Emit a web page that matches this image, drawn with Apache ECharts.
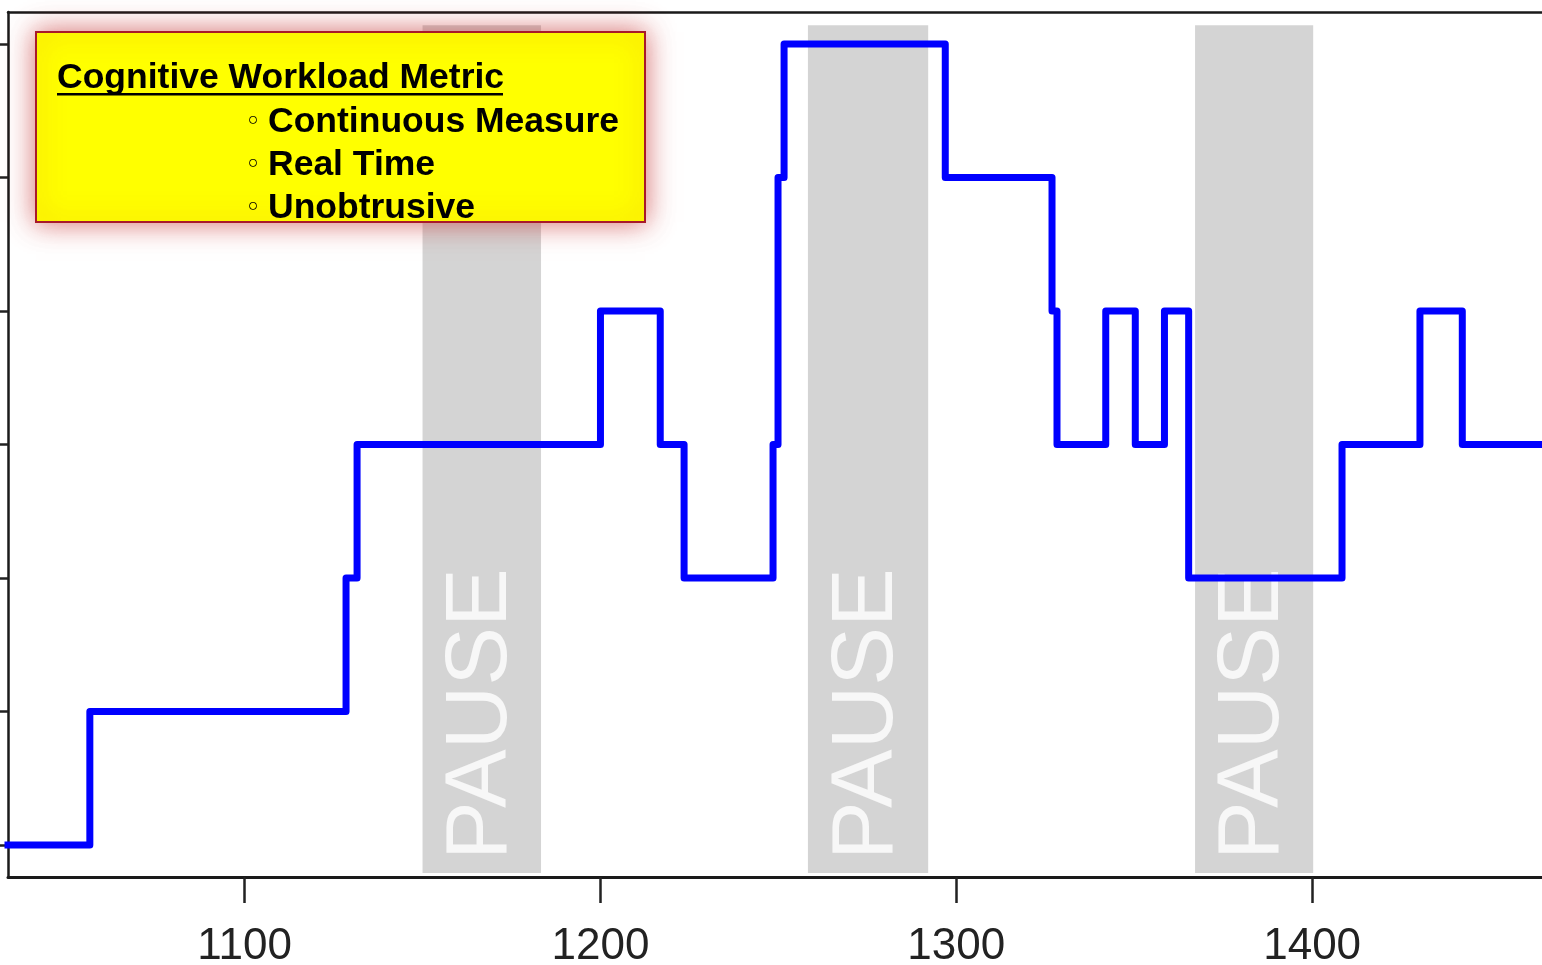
<!DOCTYPE html>
<html>
<head>
<meta charset="utf-8">
<script src="https://cdn.jsdelivr.net/npm/echarts@6/dist/echarts.min.js"></script>
<style>
html,body{margin:0;padding:0;background:#fff;}
#chart{width:1542px;height:965px;}
</style>
</head>
<body>
<div id="chart"></div>
<script>
// ---- data ----
const xTicks = [1100, 1200, 1300, 1400];
const yTicks = [1, 2, 3, 4, 5, 6, 7];
const xRange = [1033.5, 1464.6];
const yRange = [0.76, 7.24];
// times at which the workload level changes, and the new level
const stepTimes  = [1033.5, 1056.5, 1128.5, 1131.6, 1200, 1216.8, 1223.5, 1248.5, 1249.9, 1251.6, 1296.9, 1326.9, 1328.3, 1342, 1350.3, 1358.5, 1365.3, 1408.4, 1430.3, 1442.2, 1464.6];
const stepLevels = [1, 2, 3, 4, 5, 4, 3, 4, 6, 7, 6, 5, 4, 5, 4, 5, 3, 4, 5, 4, 4];
// pause periods
const pauseStart = [1150, 1258.3, 1367.1];
const pauseEnd   = [1183.3, 1292.1, 1400.3];
const pauseBand  = [0.79, 7.14];
const pauseLabel = 'PAUSE';
const pauseLabelLevel = 1.98;
const boxTitle = 'Cognitive Workload Metric';
const boxItems = ['Continuous Measure', 'Real Time', 'Unobtrusive'];

const FONT = '"Liberation Sans", Arial, sans-serif';
const chart = echarts.init(document.getElementById('chart'), null, {renderer: 'canvas'});

const lineData = stepTimes.map((t, i) => [t, stepLevels[i]]);
const labelData = pauseStart.map((s, i) => [(s + pauseEnd[i]) / 2, pauseLabelLevel]);

const graphic = [
  {
    type: 'rect', z: 100,
    shape: {x: 36, y: 32, width: 609, height: 190},
    style: {fill: '#ffff00', stroke: '#a8192a', lineWidth: 2,
            shadowBlur: 26, shadowColor: 'rgba(200,50,50,0.7)'}
  },
  {
    type: 'text', z: 101, x: 57, y: 78,
    style: {text: boxTitle, font: 'bold 35.5px ' + FONT, fill: '#000', verticalAlign: 'middle'}
  },
  {
    type: 'rect', z: 101,
    shape: {x: 57, y: 93, width: 446, height: 2.5},
    style: {fill: '#000'}
  }
];
boxItems.forEach((t, i) => {
  graphic.push({
    type: 'text', z: 101, x: 246, y: 122 + i * 43,
    style: {text: '◦', font: 'bold 22px "DejaVu Sans", sans-serif', fill: '#000', verticalAlign: 'middle'}
  });
  graphic.push({
    type: 'text', z: 101, x: 268, y: 122 + i * 43,
    style: {text: t, font: 'bold 35.5px ' + FONT, fill: '#000', verticalAlign: 'middle'}
  });
});

const option = {
  backgroundColor: '#fff',
  animation: false,
  grid: {left: 8, right: 0, top: 12, bottom: 88, outerBoundsMode: 'none', containLabel: false},
  xAxis: [
    {
      type: 'value', min: xRange[0], max: xRange[1], position: 'bottom',
      axisLine: {show: true, lineStyle: {color: '#1a1a1a', width: 3}},
      axisTick: {show: true, customValues: xTicks, length: 26, lineStyle: {color: '#222', width: 2.5}},
      axisLabel: {show: true, customValues: xTicks, fontSize: 44, color: '#222', fontFamily: FONT, margin: 48,
                  formatter: v => String(v)},
      splitLine: {show: false}
    },
    {
      type: 'value', min: xRange[0], max: xRange[1], position: 'top',
      axisLine: {show: true, lineStyle: {color: '#1a1a1a', width: 2.5}},
      axisTick: {show: false}, axisLabel: {show: false}, splitLine: {show: false}
    }
  ],
  yAxis: {
    type: 'value', min: yRange[0], max: yRange[1],
    axisLine: {show: true, lineStyle: {color: '#1a1a1a', width: 2.5}},
    axisTick: {show: true, customValues: yTicks, length: 12, lineStyle: {color: '#222', width: 2.5}},
    axisLabel: {show: false, customValues: yTicks},
    splitLine: {show: false}
  },
  graphic: graphic,
  series: [
    {
      type: 'line', z: 1, data: [], silent: true,
      markArea: {
        silent: true,
        itemStyle: {color: '#d4d4d4'},
        data: pauseStart.map((s, i) => [{coord: [s, pauseBand[0]]}, {coord: [pauseEnd[i], pauseBand[1]]}])
      }
    },
    {
      type: 'scatter', z: 2, silent: true, symbolSize: 0.1,
      itemStyle: {color: 'transparent'},
      data: labelData,
      label: {
        show: true, position: 'inside', rotate: 90, formatter: pauseLabel,
        fontSize: 88, color: '#ffffff', fontFamily: FONT, align: 'center', verticalAlign: 'middle'
      }
    },
    {
      type: 'line', z: 3, step: 'end', showSymbol: false, silent: true,
      data: lineData,
      lineStyle: {color: '#0000ff', width: 7, join: 'round', cap: 'square'}
    }
  ]
};
chart.setOption(option);
</script>
</body>
</html>
